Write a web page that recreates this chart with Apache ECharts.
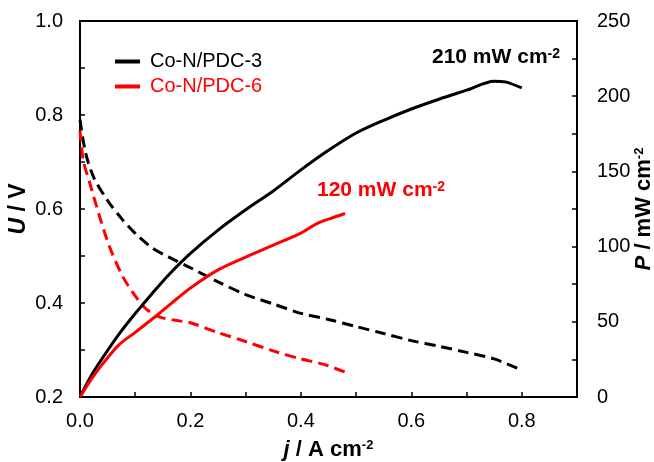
<!DOCTYPE html>
<html>
<head>
<meta charset="utf-8">
<script src="https://cdn.jsdelivr.net/npm/echarts@6/dist/echarts.min.js"></script>
<style>html,body{margin:0;padding:0;background:#fff}#c{width:654px;height:462px}</style>
</head>
<body>
<div id="c"></div>
<script>
// Co-N/PDC-3 polarization (U) and power density (P)
const j3U = [0, 0.01, 0.025, 0.05, 0.075, 0.1, 0.13, 0.16, 0.2, 0.25, 0.3, 0.35, 0.4, 0.45, 0.5, 0.55, 0.6, 0.65, 0.7, 0.75, 0.8];
const U3  = [0.79, 0.72, 0.667, 0.618, 0.58, 0.548, 0.518, 0.498, 0.475, 0.445, 0.418, 0.398, 0.378, 0.365, 0.35, 0.335, 0.32, 0.308, 0.295, 0.281, 0.257];
const j3P = [0, 0.02, 0.04, 0.07, 0.1, 0.13, 0.16, 0.2, 0.25, 0.3, 0.35, 0.4, 0.45, 0.5, 0.55, 0.6, 0.65, 0.7, 0.75, 0.77, 0.8];
const P3  = [0, 14, 25.5, 41.5, 55.5, 68.5, 81, 95.5, 111, 124.5, 137, 151, 164, 175.5, 184, 191.5, 198, 204, 210, 209.5, 205.5];
// Co-N/PDC-6
const j6U = [0, 0.006, 0.018, 0.036, 0.054, 0.078, 0.1, 0.12, 0.145, 0.18, 0.2, 0.25, 0.3, 0.35, 0.4, 0.44, 0.48];
const U6  = [0.767, 0.703, 0.654, 0.582, 0.518, 0.455, 0.415, 0.387, 0.37, 0.362, 0.358, 0.337, 0.318, 0.298, 0.281, 0.27, 0.253];
const j6P = [0, 0.02, 0.04, 0.07, 0.1, 0.14, 0.176, 0.2, 0.25, 0.3, 0.35, 0.4, 0.43, 0.46, 0.48];
const P6  = [0, 11.5, 21.5, 34.5, 43, 54.5, 65.5, 72.5, 84.5, 93, 101, 109, 115.5, 119.5, 122];

const seriesNames = ['Co-N/PDC-3', 'Co-N/PDC-6'];
const peakLabels = ['210 mW cm{s|-2}', '120 mW cm{s|-2}'];

const FONT = '"Liberation Sans", Arial, sans-serif';
const zip = (a, b) => a.map((v, i) => [v, b[i]]);

const chart = echarts.init(document.getElementById('c'), null, {renderer: 'canvas'});
const sup = {fontSize: 13, fontWeight: 'bold', fontFamily: FONT, verticalAlign: 'top', lineHeight: 13};
const supA = {fontSize: 14, fontWeight: 'bold', fontFamily: FONT, verticalAlign: 'top', lineHeight: 14};
const axisLbl = {color: '#000', fontSize: 20, fontFamily: FONT};

chart.setOption({
  animation: false,
  backgroundColor: '#fff',
  grid: {left: 80, right: 77, top: 21, bottom: 65, show: true, borderColor: '#000', borderWidth: 2,
         containLabel: false, outerBoundsMode: 'none'},
  legend: {
    orient: 'vertical', left: 115, top: 49, padding: 0, itemGap: 0, selectedMode: false,
    itemWidth: 25, itemHeight: 4, icon: 'rect',
    textStyle: {fontSize: 20, fontFamily: FONT, lineHeight: 25, padding: [0, 0, 0, 5]},
    data: [
      {name: seriesNames[0], itemStyle: {color: '#000'}, textStyle: {color: '#000'}},
      {name: seriesNames[1], itemStyle: {color: '#ff0000'}, textStyle: {color: '#ff0000'}}
    ]
  },
  xAxis: {
    type: 'value', min: 0, max: 0.9, interval: 0.1,
    name: '{i|j} / A cm{s|-2}', nameLocation: 'middle', nameGap: 42, nameMoveOverlap: false,
    nameTextStyle: {fontSize: 22, fontWeight: 'bold', fontFamily: FONT, color: '#000',
      rich: {i: {fontSize: 22, fontWeight: 'bold', fontStyle: 'italic', fontFamily: FONT}, s: sup}},
    axisLine: {lineStyle: {color: '#000', width: 2}},
    axisTick: {inside: true, length: 5, lineStyle: {color: '#000', width: 1.5}},
    splitLine: {show: false},
    axisLabel: Object.assign({margin: 14, showMaxLabel: false,
      formatter: v => (Math.round(v * 10) % 2 === 0 && v < 0.85) ? v.toFixed(1) : ''}, axisLbl)
  },
  yAxis: [{
    type: 'value', min: 0.2, max: 1.0, interval: 0.1, position: 'left',
    name: '{i|U} / V', nameLocation: 'middle', nameGap: 50, nameRotate: 90, nameMoveOverlap: false,
    nameTextStyle: {fontSize: 23, fontWeight: 'bold', fontFamily: FONT, color: '#000',
      rich: {i: {fontSize: 23, fontWeight: 'bold', fontStyle: 'italic', fontFamily: FONT}}},
    axisLine: {show: true, lineStyle: {color: '#000', width: 2}},
    axisTick: {inside: true, length: 5, lineStyle: {color: '#000', width: 1.5}},
    splitLine: {show: false},
    axisLabel: Object.assign({margin: 17,
      formatter: v => (Math.round(v * 10) % 2 === 0) ? v.toFixed(1) : ''}, axisLbl)
  }, {
    type: 'value', min: 0, max: 250, interval: 25, position: 'right',
    name: '{i|P} / mW cm{s|-2}', nameLocation: 'middle', nameGap: 56, nameRotate: 90, nameMoveOverlap: false,
    nameTextStyle: {fontSize: 22, fontWeight: 'bold', fontFamily: FONT, color: '#000',
      rich: {i: {fontSize: 22, fontWeight: 'bold', fontStyle: 'italic', fontFamily: FONT}, s: sup}},
    axisLine: {show: true, lineStyle: {color: '#000', width: 2}},
    axisTick: {inside: true, length: 5, lineStyle: {color: '#000', width: 1.5}},
    splitLine: {show: false},
    axisLabel: Object.assign({margin: 20,
      formatter: v => (Math.round(v) % 50 === 0) ? String(v) : ''}, axisLbl)
  }],
  graphic: [
    {type: 'text', left: 432, top: 47, z: 10,
     style: {text: peakLabels[0], fill: '#000', font: 'bold 21px ' + FONT,
       rich: {s: Object.assign({}, supA, {fill: '#000'})}}},
    {type: 'text', left: 317, top: 180, z: 10,
     style: {text: peakLabels[1], fill: '#ff0000', font: 'bold 21px ' + FONT,
       rich: {s: Object.assign({}, supA, {fill: '#ff0000'})}}}
  ],
  series: [
    {name: seriesNames[0] + ' U', type: 'line', yAxisIndex: 0, data: zip(j3U, U3), symbol: 'none', smooth: 0.3,
     lineStyle: {color: '#000', width: 3, type: [11, 6]}, itemStyle: {color: '#000'}},
    {name: seriesNames[1] + ' U', type: 'line', yAxisIndex: 0, data: zip(j6U, U6), symbol: 'none', smooth: 0.3,
     lineStyle: {color: '#ff0000', width: 3, type: [11, 6]}, itemStyle: {color: '#ff0000'}},
    {name: seriesNames[0], type: 'line', yAxisIndex: 1, data: zip(j3P, P3), symbol: 'none', smooth: 0.3,
     lineStyle: {color: '#000', width: 3}, itemStyle: {color: '#000'}},
    {name: seriesNames[1], type: 'line', yAxisIndex: 1, data: zip(j6P, P6), symbol: 'none', smooth: 0.3,
     lineStyle: {color: '#ff0000', width: 3}, itemStyle: {color: '#ff0000'}}
  ]
});
</script>
</body>
</html>
